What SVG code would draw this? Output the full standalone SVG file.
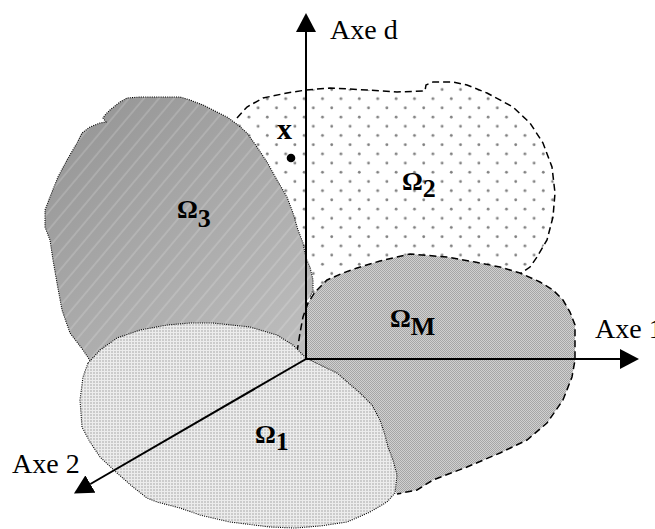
<svg xmlns="http://www.w3.org/2000/svg" width="655" height="529" viewBox="0 0 655 529">
<style>
.lbl{font-family:"Liberation Serif","Times New Roman",serif;font-size:28px;fill:#000}
.om{font-family:"Liberation Serif","Times New Roman",serif;font-size:26px;font-weight:bold;fill:#000}
.dotted{fill:none;stroke:#000;stroke-width:1.1;stroke-dasharray:1 1.2}
.dashed{fill:none;stroke:#000;stroke-width:1.5;stroke-dasharray:7 4}
.axis{fill:none;stroke:#000;stroke-width:2;marker-end:url(#arrow)}
</style>
<defs>
<marker id="arrow" viewBox="0 0 19 20" refX="0" refY="10" markerWidth="19" markerHeight="20" markerUnits="userSpaceOnUse" orient="auto">
<path d="M0,0 L19,10 L0,20 z" fill="#000"/>
</marker>
<pattern id="pDots" patternUnits="userSpaceOnUse" x="14.3" y="11.3" width="18.4" height="18.4">
<rect width="18.4" height="18.4" fill="#fff"/>
<circle cx="4.6" cy="4.6" r="1.4" fill="#808080"/>
<circle cx="13.8" cy="13.8" r="1.4" fill="#808080"/>
</pattern>
<linearGradient id="g3" gradientUnits="userSpaceOnUse" x1="100" y1="100" x2="300" y2="350">
<stop offset="0" stop-color="#979797"/>
<stop offset="1" stop-color="#bdbdbd"/>
</linearGradient>
<pattern id="pHatch" patternUnits="userSpaceOnUse" width="11.5" height="11.5" patternTransform="rotate(40)">
<line x1="1" y1="0" x2="1" y2="11.5" stroke="#fff" stroke-width="0.6" stroke-opacity="0.5"/>
</pattern>
<pattern id="pCheck" patternUnits="userSpaceOnUse" width="2" height="2">
<rect width="2" height="2" fill="#d0d0d0"/>
<rect x="0" y="0" width="1" height="1" fill="#a6a6a6"/>
<rect x="1" y="1" width="1" height="1" fill="#a6a6a6"/>
</pattern>
<pattern id="pFine" patternUnits="userSpaceOnUse" width="3" height="3">
<rect width="3" height="3" fill="#ececec"/>
<rect x="0" y="0" width="2" height="2" fill="#cbcbcb"/>
</pattern>
</defs>

<g id="omega2">
<path fill="url(#pDots)" d="M232,125 L237,118 L247,107 L263,98 L287,93 L306,90 L330,88 L367,90 L397,92 L425,91 L426,85 L433,82 L453,82 L467,85 L487,93 L513,107 L530,123 L543,143 L552,167 L555,193 L553,217 L547,240 L537,257 L530,267 L520,273 L480,310 L320,310 L300,300 L290,250 Z"/>
<path class="dashed" d="M237,118 L247,107 L263,98 L287,93 L306,90 L330,88 L367,90 L397,92 L425,91 L426,85 L433,82 L453,82 L467,85 L487,93 L513,107 L530,123 L543,143 L552,167 L555,193 L553,217 L547,240 L537,257 L530,267 L520,274"/>
</g>

<g id="omega3">
<path fill="url(#g3)" d="M110,110 L120,102 L127,98 L140,97 L160,97 L180,97 L190,100 L203,105 L215,111 L227,117 L238,125 L247,133 L257,147 L267,162 L277,180 L287,197 L293,213 L298,230 L303,243 L306,258 L310,267 L313,280 L313,290 L310,297 L306,302 L306,362 L200,340 L95,368 L83,350 L70,333 L62,310 L57,283 L53,260 L50,240 L45,227 L45,210 L50,197 L58,177 L67,160 L77,143 L82,133 L90,127 L100,123 L106,122 L103,118 L105,115 Z"/>
<path fill="url(#pHatch)" d="M110,110 L120,102 L127,98 L140,97 L160,97 L180,97 L190,100 L203,105 L215,111 L227,117 L238,125 L247,133 L257,147 L267,162 L277,180 L287,197 L293,213 L298,230 L303,243 L306,258 L310,267 L313,280 L313,290 L310,297 L306,302 L306,362 L200,340 L95,368 L83,350 L70,333 L62,310 L57,283 L53,260 L50,240 L45,227 L45,210 L50,197 L58,177 L67,160 L77,143 L82,133 L90,127 L100,123 L106,122 L103,118 L105,115 Z"/>
<path class="dotted" d="M95,368 L83,350 L70,333 L62,310 L57,283 L53,260 L50,240 L45,227 L45,210 L50,197 L58,177 L67,160 L77,143 L82,133 L90,127 L100,123 L106,122 L103,118 L105,115 L110,110 L120,102 L127,98 L140,97 L160,97 L180,97 L190,100 L203,105 L215,111 L227,117 L238,125 L247,133 L257,147 L267,162 L277,180 L287,197 L293,213 L298,230 L303,243 L306,258 L310,267 L313,280 L313,290 L310,297"/>
</g>

<g id="omegaM">
<path fill="url(#pCheck)" d="M306,303 L308,303 L315,292 L327,280 L343,273 L357,268 L380,261 L410,254 L447,257 L475,262 L500,267 L520,273 L540,282 L553,290 L563,300 L570,312 L575,325 L575,360 L572,377 L563,400 L547,423 L527,440 L500,453 L467,467 L433,480 L417,490 L397,494 L340,400 L306,362 Z"/>
<path class="dashed" d="M297,352 L300,333 L303,317 L308,303 L315,292 L327,280 L343,273 L357,268 L380,261 L410,254 L447,257 L475,262 L500,267 L520,273 L540,282 L553,290 L563,300 L570,312 L575,325 L575,360 L572,377 L563,400 L547,423 L527,440 L500,453 L467,467 L433,480 L417,490 L397,494"/>
</g>

<g id="omega1">
<path class="dotted" style="fill:url(#pFine)" d="M88,363 L100,350 L117,338 L140,330 L167,325 L190,323 L213,323 L250,327 L277,335 L293,345 L305,357 L310,360 L337,373 L360,393 L372,405 L380,420 L385,435 L388,447 L393,460 L397,475 L395,493 L387,502 L370,512 L347,522 L320,526 L295,528 L270,527 L230,522 L200,515 L180,508 L157,502 L147,498 L133,487 L117,473 L100,457 L90,442 L82,427 L80,400 L83,377 Z"/>
</g>

<g id="axes">
<line class="axis" x1="306" y1="359" x2="306" y2="32"/>
<line class="axis" x1="306" y1="359" x2="620" y2="359"/>
<line class="axis" x1="306" y1="359" x2="90.4" y2="484"/>
</g>

<g id="labels">
<text class="lbl" x="330" y="39">Axe d</text>
<text class="lbl" x="595" y="338">Axe 1</text>
<text class="lbl" x="12" y="473">Axe 2</text>
<text class="om" x="177" y="218">Ω<tspan y="227">3</tspan></text>
<text class="om" x="402" y="190">Ω<tspan y="197">2</tspan></text>
<text class="om" x="390" y="327">Ω<tspan y="335">M</tspan></text>
<text class="om" x="255" y="443">Ω<tspan y="450">1</tspan></text>
</g>

<g id="pointX">
<text x="277" y="139" style="font-family:'Liberation Serif','Times New Roman',serif;font-size:30px;font-weight:bold">x</text>
<circle cx="291" cy="158" r="4.3" fill="#000"/>
</g>
</svg>
